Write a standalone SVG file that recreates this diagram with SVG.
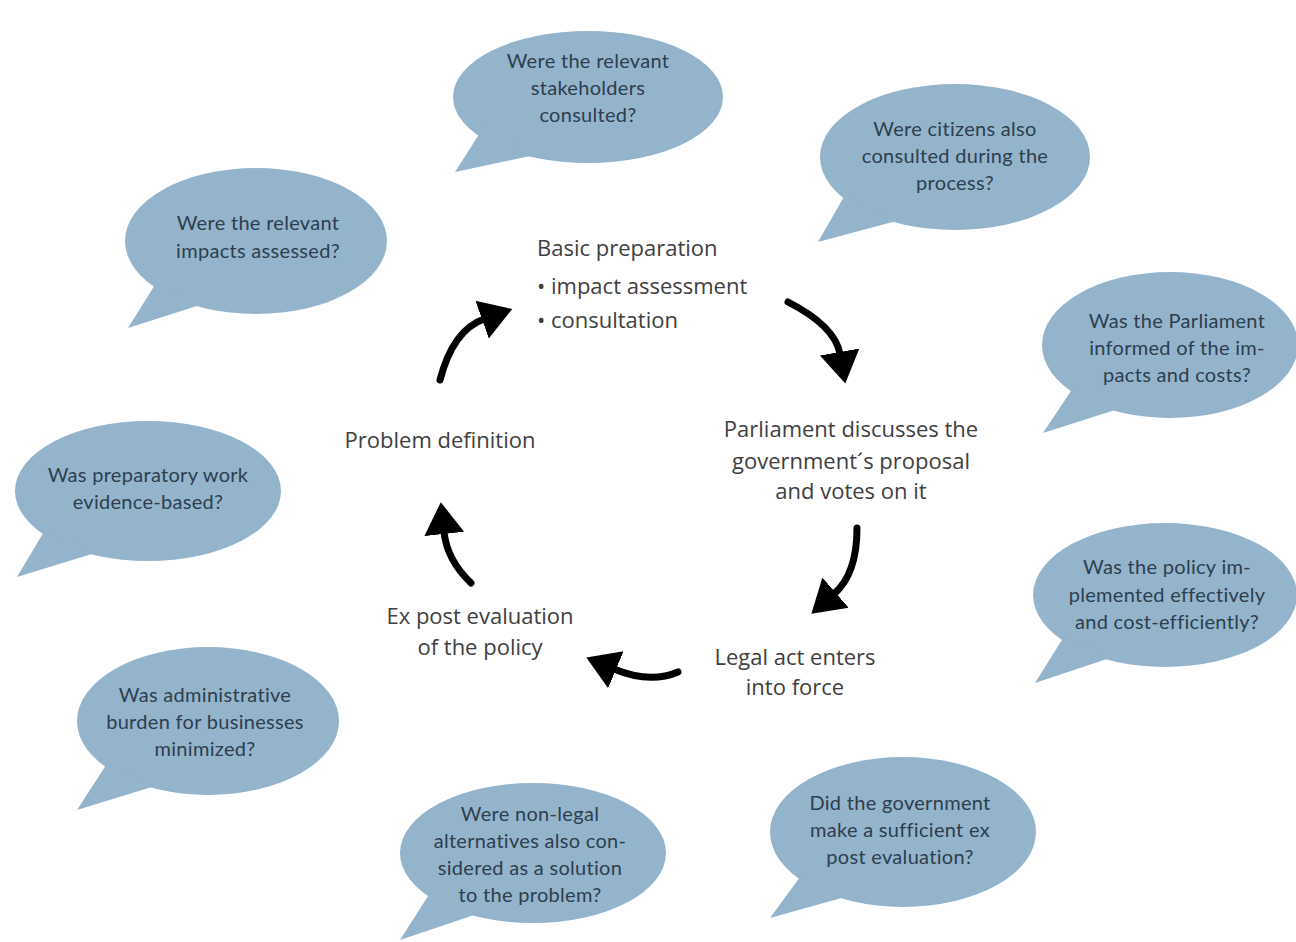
<svg xmlns="http://www.w3.org/2000/svg" width="1296" height="942" viewBox="0 0 1296 942">
<style>
.bubble ellipse, .bubble path { fill: #94b4cc; stroke: none; }
.bubble text { font-family: Lato, "Open Sans", "Liberation Sans", sans-serif; font-size: 20px; letter-spacing: 0.3px; fill: #2d3e4e; text-anchor: middle; }
.step text { font-family: "Open Sans", "Liberation Sans", sans-serif; font-size: 22px; fill: #404040; }
.mid { text-anchor: middle; }
.arrow { fill: none; stroke: #000; stroke-width: 7; stroke-linecap: round; marker-end: url(#head); }
</style>
<defs>
<marker id="head" markerUnits="userSpaceOnUse" markerWidth="42" markerHeight="46" refX="2" refY="21" orient="auto" viewBox="0 0 42 42">
<path d="M0,1 L32,21 L0,41 Z" fill="#000"/>
</marker>
</defs>
<rect width="1296" height="942" fill="#fff"/>

<g id="q-stakeholders" class="bubble">
<ellipse cx="588" cy="97" rx="135" ry="66"/>
<path d="M485,125 L455,172 L535,155 Z"/>
<text><tspan x="588" y="68">Were the relevant</tspan><tspan x="588" y="95">stakeholders</tspan><tspan x="588" y="122">consulted?</tspan></text>
</g>

<g id="q-citizens" class="bubble">
<ellipse cx="955" cy="157" rx="135" ry="73"/>
<path d="M845,195 L818,242 L900,220 Z"/>
<text><tspan x="955" y="136">Were citizens also</tspan><tspan x="955" y="163">consulted during the</tspan><tspan x="955" y="190">process?</tspan></text>
</g>

<g id="q-impacts" class="bubble">
<ellipse cx="256" cy="241" rx="131" ry="73"/>
<path d="M158,280 L128,328 L200,305 Z"/>
<text><tspan x="258" y="230">Were the relevant</tspan><tspan x="258" y="258">impacts assessed?</tspan></text>
</g>

<g id="q-parliament" class="bubble">
<ellipse cx="1170" cy="345" rx="128" ry="73"/>
<path d="M1075,385 L1043,433 L1115,410 Z"/>
<text><tspan x="1177" y="328">Was the Parliament</tspan><tspan x="1177" y="355">informed of the im-</tspan><tspan x="1177" y="382">pacts and costs?</tspan></text>
</g>

<g id="q-evidence" class="bubble">
<ellipse cx="148" cy="491" rx="133" ry="70"/>
<path d="M45,530 L17,577 L95,553 Z"/>
<text><tspan x="148" y="482">Was preparatory work</tspan><tspan x="148" y="509">evidence-based?</tspan></text>
</g>

<g id="q-implemented" class="bubble">
<ellipse cx="1165" cy="595" rx="132" ry="72"/>
<path d="M1065,635 L1035,683 L1110,658 Z"/>
<text><tspan x="1167" y="574">Was the policy im-</tspan><tspan x="1167" y="602">plemented effectively</tspan><tspan x="1167" y="629">and cost-efficiently?</tspan></text>
</g>

<g id="q-burden" class="bubble">
<ellipse cx="208" cy="721" rx="131" ry="74"/>
<path d="M108,762 L77,810 L155,786 Z"/>
<text><tspan x="205" y="702">Was administrative</tspan><tspan x="205" y="729">burden for businesses</tspan><tspan x="205" y="756">minimized?</tspan></text>
</g>

<g id="q-alternatives" class="bubble">
<ellipse cx="533" cy="853" rx="133" ry="70"/>
<path d="M430,893 L400,940 L480,913 Z"/>
<text><tspan x="530" y="821">Were non-legal</tspan><tspan x="530" y="848">alternatives also con-</tspan><tspan x="530" y="875">sidered as a solution</tspan><tspan x="530" y="902">to the problem?</tspan></text>
</g>

<g id="q-expost" class="bubble">
<ellipse cx="903" cy="832" rx="133" ry="75"/>
<path d="M803,873 L770,918 L845,897 Z"/>
<text><tspan x="900" y="810">Did the government</tspan><tspan x="900" y="837">make a sufficient ex</tspan><tspan x="900" y="864">post evaluation?</tspan></text>
</g>

<g id="s-basic" class="step">
<text><tspan x="537" y="256">Basic preparation</tspan><tspan x="537" y="294">• impact assessment</tspan><tspan x="537" y="328">• consultation</tspan></text>
</g>
<g id="s-parliament" class="step">
<text class="mid"><tspan x="851" y="437">Parliament discusses the</tspan><tspan x="851" y="469">government´s proposal</tspan><tspan x="851" y="499">and votes on it</tspan></text>
</g>
<g id="s-legal" class="step">
<text class="mid"><tspan x="795" y="665">Legal act enters</tspan><tspan x="795" y="695">into force</tspan></text>
</g>
<g id="s-expost" class="step">
<text class="mid"><tspan x="480" y="624">Ex post evaluation</tspan><tspan x="480" y="655">of the policy</tspan></text>
</g>
<g id="s-problem" class="step">
<text class="mid"><tspan x="440" y="448">Problem definition</tspan></text>
</g>

<g id="connectors">
<path class="arrow" d="M440,380 Q453,330 484,319"/>
<path class="arrow" d="M788,302 Q835,326 840,354"/>
<path class="arrow" d="M857,528 Q857,574 834,594"/>
<path class="arrow" d="M678,672 Q650,684 614,669"/>
<path class="arrow" d="M471,583 Q447,560 444,532"/>
</g>
</svg>
